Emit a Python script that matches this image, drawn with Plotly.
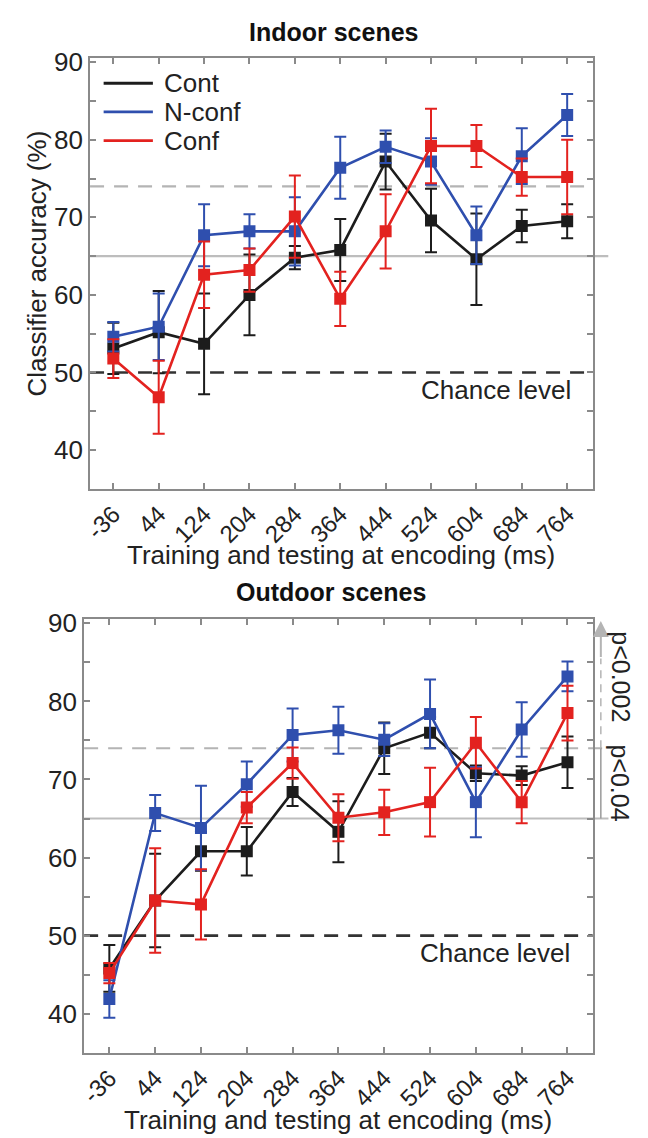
import plotly.graph_objects as go

# ---------------- data ----------------
times = [-36, 44, 124, 204, 284, 364, 444, 524, 604, 684, 764]
tick_labels = ["-36", "44", "124", "204", "284", "364", "444", "524", "604", "684", "764"]
series_names = ["Cont", "N-conf", "Conf"]

indoor_cont = [53.1, 55.2, 53.7, 60.0, 64.8, 65.8, 77.2, 69.6, 64.6, 68.9, 69.5]
indoor_cont_err = [3.3, 5.3, 6.5, 5.2, 1.5, 4.0, 3.6, 4.1, 5.9, 2.1, 2.2]
indoor_nconf = [54.6, 55.9, 67.7, 68.2, 68.2, 76.4, 79.1, 77.2, 67.7, 77.9, 83.2]
indoor_nconf_err = [1.9, 4.3, 4.0, 2.2, 4.4, 4.0, 2.1, 3.0, 3.7, 3.6, 2.7]
indoor_conf = [51.8, 46.8, 62.6, 63.2, 70.1, 59.5, 68.2, 79.2, 79.2, 75.2, 75.2]
indoor_conf_err = [2.5, 4.7, 4.3, 2.8, 5.3, 3.5, 4.8, 4.8, 2.7, 2.4, 4.8]

outdoor_cont = [45.8, 54.5, 60.8, 60.8, 68.4, 63.3, 74.0, 76.0, 70.8, 70.5, 72.2]
outdoor_cont_err = [3.0, 6.0, 2.5, 3.1, 1.8, 3.9, 3.3, 2.0, 1.0, 1.2, 3.3]
outdoor_nconf = [41.9, 65.7, 63.8, 69.4, 75.7, 76.3, 75.1, 78.4, 67.1, 76.4, 83.2]
outdoor_nconf_err = [2.4, 2.3, 5.4, 2.9, 3.4, 3.0, 2.1, 4.4, 4.5, 3.5, 1.9]
outdoor_conf = [45.2, 54.5, 54.0, 66.4, 72.1, 65.1, 65.8, 67.1, 74.7, 67.1, 78.5]
outdoor_conf_err = [1.3, 6.7, 4.5, 2.0, 2.0, 3.0, 2.9, 4.4, 3.3, 2.7, 3.5]

chance_level = 50
thr_p04 = 65
thr_p002 = 74

colors = ["#1c1c1c", "#2f4fae", "#e3221f"]
FONT = "Liberation Sans, Arial, sans-serif"
TXT = "#222222"
AX = "#8a8a8a"

# page has the browser's default 8px body margin: figure drawn at (8, 8)
OFF = 8
W, H = 648 - OFF, 1138 - OFF

def px_x(a, b):
    return [(a - OFF) / W, (b - OFF) / W]

def px_y(top, bottom):
    return [1 - (bottom - OFF) / H, 1 - (top - OFF) / H]

def py(y):
    return 1 - (y - OFF) / H

def pxx(x):
    return (x - OFF) / W

fig = go.Figure()

panels = [
    dict(x="x", y="y", xa="xaxis", ya="yaxis",
         data=[(indoor_cont, indoor_cont_err), (indoor_nconf, indoor_nconf_err), (indoor_conf, indoor_conf_err)],
         xdom=px_x(83, 592), ydom=px_y(48, 483), xr=[-77, 809], title="Indoor scenes",
         title_y=22, xtitle_y=550),
    dict(x="x2", y="y2", xa="xaxis2", ya="yaxis2",
         data=[(outdoor_cont, outdoor_cont_err), (outdoor_nconf, outdoor_nconf_err), (outdoor_conf, outdoor_conf_err)],
         xdom=px_x(77, 592), ydom=px_y(614, 1052), xr=[-80, 808], title="Outdoor scenes",
         title_y=587, xtitle_y=1120),
]

for p in panels:
    for name, (vals, errs), col in zip(series_names, p["data"], colors):
        fig.add_trace(go.Scatter(
            x=times, y=vals, name=name, mode="lines+markers",
            xaxis=p["x"], yaxis=p["y"], showlegend=False,
            line=dict(color=col, width=2.6),
            marker=dict(symbol="square", size=12, color=col),
            error_y=dict(type="data", array=errs, visible=True, color=col, thickness=2, width=6),
        ))

layout = dict(
    width=W, height=H, margin=dict(l=0, r=0, t=0, b=0),
    paper_bgcolor="white", plot_bgcolor="white",
    font=dict(family=FONT, size=24, color=TXT),
    showlegend=False,
)

annotations = []
shapes = []
for i, p in enumerate(panels):
    layout[p["xa"]] = dict(
        domain=p["xdom"], range=p["xr"], anchor=p["y"],
        tickmode="array", tickvals=times, ticktext=tick_labels, tickangle=-45,
        ticks="inside", ticklen=6, tickcolor=AX, tickwidth=1.5,
        showline=True, linecolor=AX, linewidth=1.8, mirror="ticks",
        showgrid=False, zeroline=False,
        tickfont=dict(size=24, family=FONT, color=TXT),
    )
    layout[p["ya"]] = dict(
        domain=p["ydom"], range=[35, 90.6], anchor=p["x"],
        tickmode="array", tickvals=[40, 50, 60, 70, 80, 90],
        ticks="inside", ticklen=6, tickcolor=AX, tickwidth=1.5,
        minor=dict(dtick=5, ticks="inside", ticklen=6, tickcolor=AX, tickwidth=1.5, showgrid=False),
        showline=True, linecolor=AX, linewidth=1.8, mirror="ticks",
        showgrid=False, zeroline=False,
        tickfont=dict(size=26, family=FONT, color=TXT),
    )

    xd = p["x"] + " domain"
    # chance level
    shapes.append(dict(type="line", xref=xd, yref=p["y"], x0=0, x1=1, y0=chance_level, y1=chance_level,
                       line=dict(color="#333333", width=2.6, dash="14px,10px"), layer="below"))
    ext = 1.0 if i == 0 else 1.031
    shapes.append(dict(type="line", xref=xd, yref=p["y"], x0=0, x1=ext, y0=thr_p002, y1=thr_p002,
                       line=dict(color="#b4b4b4", width=2.2, dash="14px,10px"), layer="below"))
    shapes.append(dict(type="line", xref=xd, yref=p["y"], x0=0, x1=1.031, y0=thr_p04, y1=thr_p04,
                       line=dict(color="#bdbdbd", width=2.2), layer="below"))
    annotations.append(dict(text="Chance level", xref=xd, yref=p["y"], x=0.96, y=chance_level - 2.2,
                            xanchor="right", yanchor="middle", showarrow=False,
                            font=dict(size=26, family=FONT, color=TXT)))
    annotations.append(dict(text="<b>%s</b>" % p["title"], xref=xd, yref="paper",
                            x=0.485, y=py(p["title_y"]), xanchor="center", yanchor="middle",
                            showarrow=False, font=dict(size=25, family=FONT, color="#111111")))
    annotations.append(dict(text="Training and testing at encoding (ms)", xref=xd, yref="paper",
                            x=0.5, y=py(p["xtitle_y"]), xanchor="center", yanchor="middle",
                            showarrow=False, font=dict(size=26, family=FONT, color=TXT)))

# y-axis title (top panel only)
annotations.append(dict(text="Classifier accuracy (%)", xref="paper", yref="paper",
                        x=pxx(29), y=py(256), textangle=-90, xanchor="center", yanchor="middle",
                        showarrow=False, font=dict(size=26, family=FONT, color=TXT)))

# legend (top panel), drawn manually: line sample + label
leg_y = [87.3, 83.6, 79.9]
for name, col, ly in zip(series_names, colors, leg_y):
    shapes.append(dict(type="line", xref="x domain", yref="y", x0=0.027, x1=0.125, y0=ly, y1=ly,
                       line=dict(color=col, width=2.8)))
    annotations.append(dict(text=name, xref="x domain", yref="y", x=0.143, y=ly, xanchor="left",
                            yanchor="middle", showarrow=False, font=dict(size=26, family=FONT, color=TXT)))

# significance arrow on the bottom panel
arr_x = 1.016
shapes.append(dict(type="line", xref="x2 domain", yref="y2", x0=arr_x, x1=arr_x, y0=thr_p04, y1=thr_p002,
                   line=dict(color="#9a9a9a", width=1.5)))
shapes.append(dict(type="line", xref="x2 domain", yref="y2", x0=arr_x, x1=arr_x, y0=thr_p002, y1=85.5,
                   line=dict(color="#b4b4b4", width=1.5, dash="8px,6px")))
annotations.append(dict(xref="x2 domain", yref="y2", x=arr_x, y=90.3, ax=arr_x, ay=85.5,
                        axref="x2 domain", ayref="y2", showarrow=True, arrowhead=2, arrowsize=1.6,
                        arrowwidth=2, arrowcolor="#b4b4b4", text=""))
annotations.append(dict(text="p<0.002", xref="x2 domain", yref="y2", x=1.054, y=83.2, textangle=90,
                        xanchor="center", yanchor="middle", showarrow=False,
                        font=dict(size=25, family=FONT, color=TXT)))
annotations.append(dict(text="p<0.04", xref="x2 domain", yref="y2", x=1.054, y=69.6, textangle=90,
                        xanchor="center", yanchor="middle", showarrow=False,
                        font=dict(size=25, family=FONT, color=TXT)))

layout["shapes"] = shapes
layout["annotations"] = annotations
fig.update_layout(**layout)
fig.write_html("out.html")
